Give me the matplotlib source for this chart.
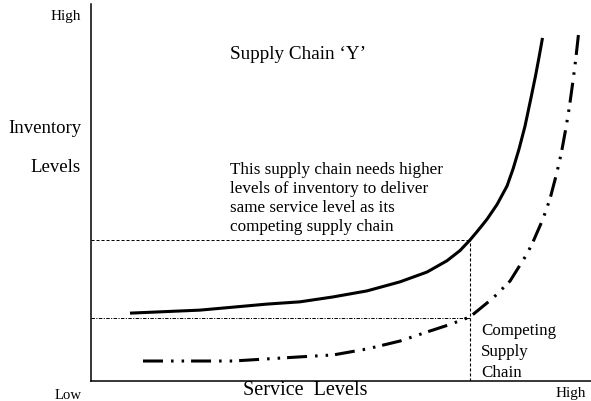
import numpy as np
import matplotlib
matplotlib.use("Agg")
import matplotlib.pyplot as plt

plt.rcParams['font.family'] = ['Liberation Serif', 'DejaVu Serif']
plt.rcParams['lines.scale_dashes'] = False

# curve for supply chain 'Y' (service level, inventory level) on a 0-100 scale
y_chain_x = [7.8, 21.8, 35.2, 41.8, 48.4, 55.2, 61.8, 67.2, 71.2, 73.8, 75.8, 77.2,
             79.2, 81.2, 83.2, 84.4, 85.6, 86.8, 87.95, 88.9, 89.65, 90.3]
y_chain_y = [18.0, 18.8, 20.4, 21.0, 22.3, 23.9, 26.3, 28.9, 31.9, 34.6, 37.4, 39.6,
             42.9, 46.8, 51.7, 56.2, 61.5, 67.6, 74.8, 80.9, 86.2, 91.0]

# competing supply chain
comp_x = [10.4, 28.4, 41.8, 48.4, 55.2, 61.8, 67.2, 71.8, 75.8, 80.4, 83.8, 87.2,
          88.4, 90.4, 91.8, 93.2, 94.1, 95.05, 95.7, 96.45, 96.95, 97.55]
comp_y = [5.3, 5.3, 6.4, 6.9, 8.5, 10.6, 13.0, 15.0, 17.0, 22.0, 26.5, 33.7,
          36.9, 43.0, 48.3, 55.4, 60.7, 67.6, 72.9, 80.1, 85.4, 92.6]

# reference levels at the compared service level
service_ref = 75.8
inv_y_ref = 37.4
inv_comp_ref = 16.8

W, H = 591, 402
fig = plt.figure(figsize=(W / 100, H / 100), dpi=100)
ax = fig.add_axes([91 / W, 20 / H, 500 / W, 377 / H])
ax.set_xlim(0, 100)
ax.set_ylim(0, 100)
ax.spines['top'].set_visible(False)
ax.spines['right'].set_visible(False)
for s in ['left', 'bottom']:
    ax.spines[s].set_linewidth(1.1)
ax.set_xticks([])
ax.set_yticks([])

ax.plot(y_chain_x, y_chain_y, color='black', lw=2.2, solid_capstyle='butt',
        solid_joinstyle='round')
ax.plot(comp_x, comp_y, color='black', lw=2.2, dash_capstyle='butt',
        dashes=(14.4, 5.8, 1.8, 5.8, 1.8, 5.0))

# guide lines
ax.plot([0, service_ref], [inv_y_ref, inv_y_ref], color='black', lw=0.7, dashes=(2.2, 1.4))
ax.plot([0, service_ref], [inv_comp_ref, inv_comp_ref], color='black', lw=0.7,
        dashes=(2.5, 1.0, 0.8, 1.0))
ax.plot([service_ref, service_ref], [0, inv_y_ref], color='black', lw=0.8, dashes=(2.2, 1.4))


def px(x, y):
    return x / W, 1 - y / H


fig.text(*px(81, 20), "High", ha='right', va='baseline', fontsize=11)
fig.text(*px(81, 133), "Inventory", ha='right', va='baseline', fontsize=13.5)
fig.text(*px(81, 172), "Levels", ha='right', va='baseline', fontsize=13.5)
fig.text(*px(82, 399), "Low", ha='right', va='baseline', fontsize=10.6)
fig.text(*px(586, 397), "High", ha='right', va='baseline', fontsize=11)
fig.text(*px(243, 395), "Service  Levels", ha='left', va='baseline', fontsize=14.5)

fig.text(*px(230, 59), "Supply Chain \u2018Y\u2019", ha='left', va='baseline', fontsize=13.8)
body = ["This supply chain needs higher",
        "levels of inventory to deliver",
        "same service level as its",
        "competing supply chain"]
for i, line in enumerate(body):
    fig.text(*px(230, 174 + 19 * i), line, ha='left', va='baseline', fontsize=12.3)

comp_label = ["Competing", "Supply", "Chain"]
for i, line in enumerate(comp_label):
    fig.text(*px(481, 335 + 21 * i), line, ha='left', va='baseline', fontsize=12.2)

fig.savefig("out.png", dpi=100)
